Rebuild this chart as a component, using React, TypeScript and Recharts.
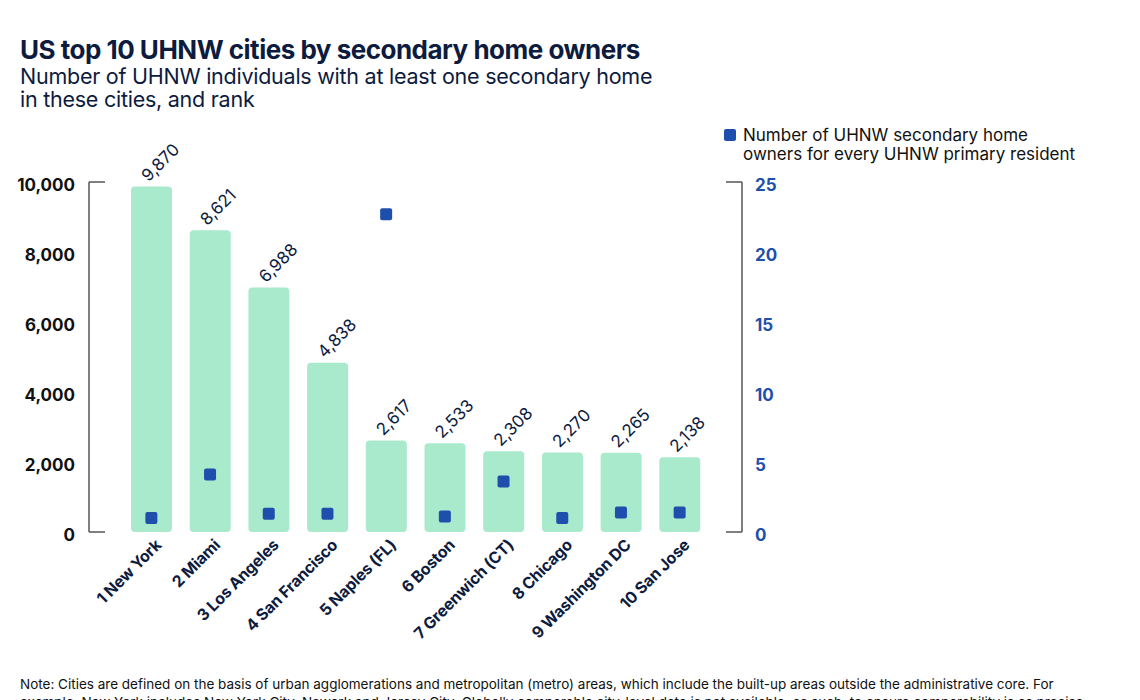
import React from 'react';
import {
  ComposedChart,
  Bar,
  Scatter,
  XAxis,
  YAxis,
  LabelList,
} from 'recharts';

const cities = [
  '1 New York',
  '2 Miami',
  '3 Los Angeles',
  '4 San Francisco',
  '5 Naples (FL)',
  '6 Boston',
  '7 Greenwich (CT)',
  '8 Chicago',
  '9 Washington DC',
  '10 San Jose',
];
const owners = [9870, 8621, 6988, 4838, 2617, 2533, 2308, 2270, 2265, 2138];
const ratio = [1.0, 4.1, 1.3, 1.3, 22.7, 1.1, 3.6, 1.0, 1.4, 1.4];
const leftTicks = [0, 2000, 4000, 6000, 8000, 10000];
const rightTicks = [0, 5, 10, 15, 20, 25];

const data = cities.map((city, i) => ({ city, owners: owners[i], ratio: ratio[i] }));

const FONT = 'Inter, "Noto Sans", sans-serif';
const NAVY = '#0d1b3e';
const BLUE = '#1f4fac';
const GREEN = '#a8eacb';
const AXIS = '#555555';

const LEFT_MARGIN = 14;
const RIGHT_MARGIN = 13;
const BRACKET = 16;

const LeftTick = (props: any) => {
  const { x, y, payload } = props;
  const axisX = x + LEFT_MARGIN;
  const edge = payload.value === 0 || payload.value === 10000;
  return (
    <g>
      {edge && <line x1={axisX} x2={axisX + BRACKET} y1={y} y2={y} stroke={AXIS} strokeWidth={1.5} />}
      <text x={x} y={y + 3} dy="0.36em" textAnchor="end" fontFamily={FONT} fontSize={17} fontWeight={700} fill="#111">
        {payload.value.toLocaleString('en-US')}
      </text>
    </g>
  );
};

const RightTick = (props: any) => {
  const { x, y, payload } = props;
  const axisX = x - RIGHT_MARGIN;
  const edge = payload.value === 0 || payload.value === 25;
  return (
    <g>
      {edge && <line x1={axisX - BRACKET} x2={axisX} y1={y} y2={y} stroke={AXIS} strokeWidth={1.5} />}
      <text x={x} y={y + 3} dy="0.36em" textAnchor="start" fontFamily={FONT} fontSize={17} fontWeight={700} fill={BLUE}>
        {payload.value}
      </text>
    </g>
  );
};

const CityTick = (props: any) => {
  const { x, y, payload } = props;
  const tx = x + 7;
  const ty = y + 10;
  return (
    <text
      x={tx}
      y={ty}
      dy="0.36em"
      textAnchor="end"
      transform={`rotate(-45, ${tx}, ${ty})`}
      fontFamily={FONT}
      fontSize={16}
      fontWeight={700}
      letterSpacing={-0.2}
      fill={NAVY}
    >
      {payload.value}
    </text>
  );
};

const ValueLabel = (props: any) => {
  const { x, y, width, value } = props;
  const tx = x + width / 2 - 3;
  const ty = y - 4;
  return (
    <text
      x={tx}
      y={ty}
      textAnchor="start"
      transform={`rotate(-45, ${tx}, ${ty})`}
      fontFamily={FONT}
      fontSize={17}
      fill={NAVY}
    >
      {Number(value).toLocaleString('en-US')}
    </text>
  );
};

const SquareDot = (props: any) => {
  const { cx, cy } = props;
  return <rect x={cx - 6} y={cy - 6} width={12} height={12} rx={2} fill={BLUE} />;
};

export default function App() {
  return (
    <div
      style={{
        position: 'absolute',
        left: 0,
        top: 0,
        width: 1140,
        height: 700,
        overflow: 'hidden',
        background: '#fff',
        fontFamily: FONT,
        color: NAVY,
      }}
    >
      <div style={{ position: 'absolute', left: 20, top: 36, fontSize: 26, lineHeight: '28px', fontWeight: 700, letterSpacing: -0.5, whiteSpace: 'nowrap' }}>
        US top 10 UHNW cities by secondary home owners
      </div>
      <div style={{ position: 'absolute', left: 20, top: 65, fontSize: 21.5, lineHeight: '22.5px', letterSpacing: -0.25, whiteSpace: 'nowrap' }}>
        <div>Number of UHNW individuals with at least one secondary home</div>
        <div>in these cities, and rank</div>
      </div>

      <div style={{ position: 'absolute', left: 724, top: 129, width: 12, height: 12, borderRadius: 2, background: BLUE }} />
      <div style={{ position: 'absolute', left: 743, top: 126, fontSize: 17, lineHeight: '19px', color: '#111', whiteSpace: 'nowrap' }}>
        <div>Number of UHNW secondary home</div>
        <div>owners for every UHNW primary resident</div>
      </div>

      <div style={{ position: 'absolute', left: 0, top: 0 }}>
        <ComposedChart width={1140} height={700} data={data} margin={{ top: 182, right: 0, bottom: 0, left: 0 }}>
          <XAxis
            dataKey="city"
            interval={0}
            padding={{ left: 33, right: 33 }}
            axisLine={false}
            tickLine={false}
            tickSize={0}
            tickMargin={0}
            height={168}
            tick={<CityTick />}
          />
          <YAxis
            yAxisId="left"
            orientation="left"
            width={89}
            domain={[0, 10000]}
            ticks={leftTicks}
            interval={0}
            axisLine={{ stroke: AXIS, strokeWidth: 1.5 }}
            tickLine={false}
            tickSize={0}
            tickMargin={LEFT_MARGIN}
            tick={<LeftTick />}
          />
          <YAxis
            yAxisId="right"
            orientation="right"
            width={398}
            domain={[0, 25]}
            ticks={rightTicks}
            interval={0}
            axisLine={{ stroke: AXIS, strokeWidth: 1.5 }}
            tickLine={false}
            tickSize={0}
            tickMargin={RIGHT_MARGIN}
            tick={<RightTick />}
          />
          <Bar yAxisId="left" dataKey="owners" fill={GREEN} barSize={41} radius={[4, 4, 4, 4]} isAnimationActive={false}>
            <LabelList dataKey="owners" content={<ValueLabel />} />
          </Bar>
          <Scatter yAxisId="right" dataKey="ratio" shape={<SquareDot />} isAnimationActive={false} />
        </ComposedChart>
      </div>

      <div style={{ position: 'absolute', left: 20, top: 675, fontSize: 13.5, lineHeight: '18px', color: '#111', whiteSpace: 'nowrap' }}>
        <div>
          Note: Cities are defined on the basis of urban agglomerations and metropolitan (metro) areas, which include the built-up areas outside the administrative core. For
        </div>
        <div>
          example, New York includes New York City, Newark and Jersey City. Globally comparable city-level data is not available; as such, to ensure comparability is as precise
        </div>
      </div>
    </div>
  );
}
